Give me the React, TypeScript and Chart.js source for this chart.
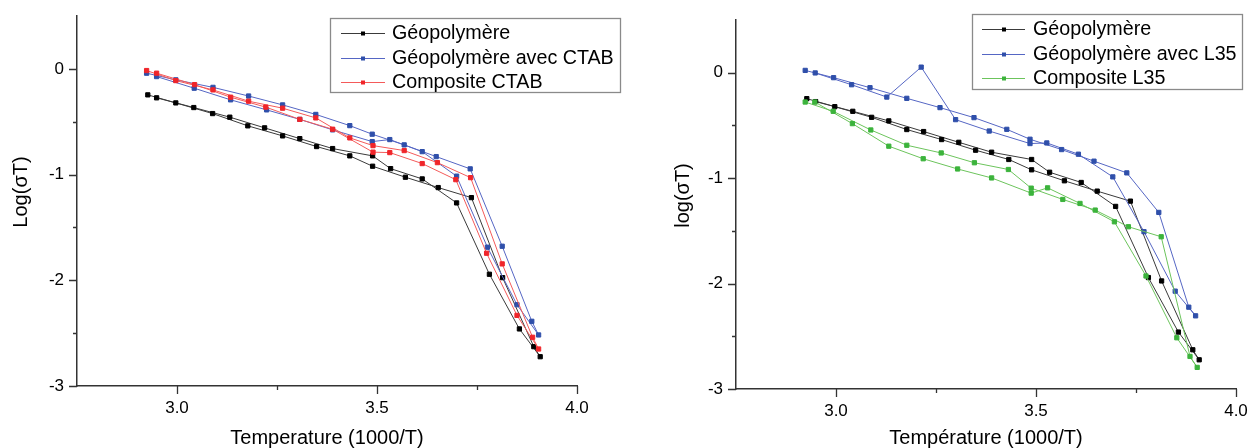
import React, { useEffect, useRef } from 'react';
import { Chart, registerables } from 'chart.js';

Chart.register(...registerables);

// ---- Data (1000/T, log(σT)); each series is a heating/cooling loop in path order ----
const geoX = [2.927, 2.997, 3.089, 3.177, 3.264, 3.349, 3.432, 3.489, 3.571, 3.653, 3.736, 3.814, 3.892, 3.908, 3.856, 3.781, 3.699, 3.613, 3.534, 3.489, 3.389, 3.307, 3.219, 3.132, 3.042, 2.949];
const geoY = [-0.246, -0.322, -0.423, -0.539, -0.634, -0.735, -0.823, -0.921, -1.025, -1.123, -1.218, -1.975, -2.628, -2.723, -2.46, -1.943, -1.268, -1.041, -0.944, -0.823, -0.754, -0.66, -0.558, -0.457, -0.366, -0.274];

const ctabX = [2.924, 2.997, 3.09, 3.179, 3.264, 3.347, 3.432, 3.488, 3.568, 3.648, 3.733, 3.813, 3.887, 3.904, 3.85, 3.776, 3.699, 3.613, 3.532, 3.488, 3.389, 3.307, 3.224, 3.134, 3.043, 2.949];
const ctabY = [-0.041, -0.104, -0.175, -0.257, -0.341, -0.431, -0.537, -0.618, -0.719, -0.83, -0.946, -1.678, -2.388, -2.517, -2.231, -1.687, -1.015, -0.783, -0.669, -0.688, -0.577, -0.478, -0.388, -0.293, -0.183, -0.073];

const compCtabX = [2.924, 2.997, 3.09, 3.179, 3.264, 3.347, 3.432, 3.49, 3.568, 3.651, 3.734, 3.813, 3.889, 3.904, 3.85, 3.774, 3.697, 3.613, 3.532, 3.49, 3.389, 3.307, 3.222, 3.134, 3.044, 2.949];
const compCtabY = [-0.016, -0.111, -0.199, -0.306, -0.372, -0.464, -0.653, -0.726, -0.773, -0.887, -1.029, -1.845, -2.539, -2.65, -2.332, -1.744, -1.048, -0.896, -0.792, -0.788, -0.571, -0.478, -0.362, -0.268, -0.149, -0.041];

const l35X = [2.923, 2.994, 3.085, 3.177, 3.26, 3.345, 3.427, 3.485, 3.564, 3.645, 3.727, 3.807, 3.882, 3.899, 3.848, 3.77, 3.692, 3.606, 3.527, 3.485, 3.383, 3.299, 3.213, 3.127, 3.039, 2.948];
const l35Y = [0.022, -0.047, -0.142, -0.243, -0.331, -0.426, -0.537, -0.631, -0.729, -0.839, -0.95, -1.325, -2.224, -2.306, -2.072, -1.508, -0.988, -0.773, -0.666, -0.672, -0.553, -0.445, 0.053, -0.231, -0.114, -0.002];

const compL35X = [2.923, 2.993, 3.087, 3.177, 3.263, 3.346, 3.431, 3.488, 3.567, 3.648, 3.731, 3.813, 3.885, 3.903, 3.852, 3.775, 3.696, 3.61, 3.529, 3.488, 3.389, 3.304, 3.218, 3.132, 3.041, 2.947];
const compL35Y = [-0.278, -0.366, -0.543, -0.688, -0.761, -0.854, -0.918, -1.095, -1.202, -1.303, -1.461, -1.556, -2.691, -2.795, -2.514, -1.928, -1.414, -1.24, -1.092, -1.142, -0.998, -0.913, -0.816, -0.697, -0.483, -0.278];

const leftLabels = ['Géopolymère', 'Géopolymère avec CTAB', 'Composite CTAB'];
const rightLabels = ['Géopolymère', 'Géopolymère avec L35', 'Composite L35'];
const leftYTitle = 'Log(σT)';
const rightYTitle = 'log(σT)';
const leftXTitle = 'Temperature (1000/T)';
const rightXTitle = 'Température (1000/T)';

const xMin = 2.75, xMax = 4.0, xStep = 0.25;
const yMin = -3, yMax = 0.5, yStep = 0.5;

const FONT = "'Liberation Sans', Arial, Helvetica, sans-serif";

const COLORS = {
  black: { marker: '#000000', line: '#3a3a3a' },
  blue: { marker: '#2f4faa', line: '#5566c4' },
  red: { marker: '#f0252a', line: '#f45a5a' },
  green: { marker: '#3cb33c', line: '#6cc45c' },
};

const toPoints = (xs: number[], ys: number[]) => xs.map((x, i) => ({ x, y: ys[i] }));
const isMajorX = (v: number) => Math.abs(v * 2 - Math.round(v * 2)) < 1e-6;
const isMajorY = (v: number) => Math.abs(v - Math.round(v)) < 1e-6;

const tickMarkPlugin = {
  id: 'tickMarks',
  afterDraw(chart: any) {
    const { ctx } = chart;
    const xs = chart.scales.x;
    const ys = chart.scales.y;
    ctx.save();
    ctx.strokeStyle = '#333333';
    ctx.lineWidth = 1.3;
    ctx.beginPath();
    for (const t of xs.ticks) {
      const major = isMajorX(t.value);
      const edge = Math.abs(t.value - xs.min) < 1e-6 || Math.abs(t.value - xs.max) < 1e-6;
      if (!major && edge) continue;
      const len = major ? 8 : 4;
      const px = Math.round(xs.getPixelForValue(t.value)) + 0.5;
      ctx.moveTo(px, xs.top);
      ctx.lineTo(px, xs.top + len);
    }
    for (const t of ys.ticks) {
      const major = isMajorY(t.value);
      const edge = Math.abs(t.value - ys.min) < 1e-6 || Math.abs(t.value - ys.max) < 1e-6;
      if (!major && edge) continue;
      const len = major ? 8 : 4;
      const py = Math.round(ys.getPixelForValue(t.value)) + 0.5;
      ctx.moveTo(ys.right - len, py);
      ctx.lineTo(ys.right, py);
    }
    ctx.stroke();
    ctx.restore();
  },
};

// vertical axis title, centred slightly above the axis middle as in the original
const yTitlePlugin = {
  id: 'yTitle',
  afterDraw(chart: any, _args: any, opts: any) {
    const { ctx } = chart;
    const ys = chart.scales.y;
    ctx.save();
    ctx.translate(opts.x, (ys.top + ys.bottom) / 2 + opts.dy);
    ctx.rotate(-Math.PI / 2);
    ctx.fillStyle = '#000000';
    ctx.font = `20px ${FONT}`;
    ctx.textAlign = 'center';
    ctx.textBaseline = 'middle';
    ctx.fillText(opts.text, 0, 0);
    ctx.restore();
  },
};

const boxLegendPlugin = {
  id: 'boxLegend',
  afterDraw(chart: any, _args: any, opts: any) {
    const { ctx } = chart;
    const { x, y, w, h, rows, lineX0, lineX1, textX } = opts;
    ctx.save();
    ctx.fillStyle = '#ffffff';
    ctx.fillRect(x, y, w, h);
    ctx.strokeStyle = '#8a8a8a';
    ctx.lineWidth = 1.3;
    ctx.strokeRect(x + 0.5, y + 0.5, w, h);
    chart.data.datasets.forEach((ds: any, i: number) => {
      const cy = rows[i];
      ctx.strokeStyle = ds.borderColor;
      ctx.lineWidth = 1;
      ctx.beginPath();
      ctx.moveTo(lineX0, cy + 0.5);
      ctx.lineTo(lineX1, cy + 0.5);
      ctx.stroke();
      ctx.fillStyle = ds.pointBackgroundColor;
      ctx.fillRect(Math.round((lineX0 + lineX1) / 2) - 2, cy - 1.5, 4, 4);
      ctx.fillStyle = '#000000';
      ctx.font = `19.7px ${FONT}`;
      ctx.textBaseline = 'middle';
      ctx.textAlign = 'left';
      ctx.fillText(ds.label, textX, cy + 1);
    });
    ctx.restore();
  },
};

function makeDataset(label: string, xs: number[], ys: number[], c: { marker: string; line: string }, order: number) {
  return {
    label,
    data: toPoints(xs, ys),
    borderColor: c.line,
    backgroundColor: c.marker,
    pointBackgroundColor: c.marker,
    pointBorderColor: c.marker,
    pointStyle: 'rect',
    pointRadius: 3,
    pointBorderWidth: 1,
    borderWidth: 1,
    showLine: true,
    tension: 0,
    order,
  };
}

function makeConfig(p: any) {
  return {
    type: 'scatter',
    data: { datasets: p.datasets },
    plugins: [tickMarkPlugin, yTitlePlugin, boxLegendPlugin],
    options: {
      responsive: false,
      animation: false,
      devicePixelRatio: 1,
      layout: { padding: { left: 0, top: p.padTop, right: p.padRight, bottom: 0 } },
      plugins: {
        legend: { display: false },
        tooltip: { enabled: false },
        boxLegend: p.legend,
        yTitle: { text: p.yTitle, x: p.yTitleX, dy: -9 },
      },
      scales: {
        x: {
          type: 'linear',
          min: xMin,
          max: xMax,
          afterFit: (s: any) => {
            s.height = p.xHeight;
            s.paddingLeft = 0;
            s.paddingRight = 0;
            s.paddingTop = 0;
            s.paddingBottom = 0;
          },
          grid: { display: false, drawTicks: false, tickLength: 0 },
          border: { display: true, color: '#333333', width: 1.5 },
          ticks: {
            stepSize: xStep,
            autoSkip: false,
            maxRotation: 0,
            padding: 12,
            color: '#000000',
            font: { family: FONT, size: 17 },
            callback: (v: number) => (isMajorX(v) ? v.toFixed(1) : ''),
          },
          title: {
            display: true,
            text: p.xTitle,
            color: '#000000',
            font: { family: FONT, size: 20 },
            padding: { top: 0, bottom: p.xTitlePad },
          },
        },
        y: {
          type: 'linear',
          min: yMin,
          max: yMax,
          afterFit: (s: any) => {
            s.width = p.yWidth;
            s.paddingTop = 0;
            s.paddingBottom = 0;
            s.paddingLeft = 0;
            s.paddingRight = 0;
          },
          grid: { display: false, drawTicks: false, tickLength: 0 },
          border: { display: true, color: '#333333', width: 1.5 },
          ticks: {
            stepSize: yStep,
            autoSkip: false,
            padding: p.yTickPad,
            color: '#000000',
            font: { family: FONT, size: 17 },
            callback: (v: number) => (isMajorY(v) ? String(Math.round(v)) : ''),
          },
          title: { display: false },
        },
      },
    },
  };
}

const leftConfig = () =>
  makeConfig({
    datasets: [
      makeDataset(leftLabels[0], geoX, geoY, COLORS.black, 2),
      makeDataset(leftLabels[1], ctabX, ctabY, COLORS.blue, 1),
      makeDataset(leftLabels[2], compCtabX, compCtabY, COLORS.red, 0),
    ],
    xTitle: leftXTitle,
    yTitle: leftYTitle,
    yTitleX: 21,
    padTop: 16,
    padRight: 47,
    xHeight: 62,
    yWidth: 77,
    yTickPad: 13,
    xTitlePad: -2,
    legend: { x: 330, y: 18, w: 290, h: 74, rows: [33, 58, 82], lineX0: 341, lineX1: 385, textX: 392 },
  });

const rightConfig = () =>
  makeConfig({
    datasets: [
      makeDataset(rightLabels[0], geoX, geoY, COLORS.black, 2),
      makeDataset(rightLabels[1], l35X, l35Y, COLORS.blue, 1),
      makeDataset(rightLabels[2], compL35X, compL35Y, COLORS.green, 0),
    ],
    xTitle: rightXTitle,
    yTitle: rightYTitle,
    yTitleX: 59,
    padTop: 20,
    padRight: 12,
    xHeight: 59,
    yWidth: 112,
    yTickPad: 13,
    xTitlePad: -2,
    legend: { x: 348, y: 14, w: 270, h: 75, rows: [29, 54, 78], lineX0: 358, lineX1: 401, textX: 409 },
  });

function Panel({ build, left }: { build: () => any; left: number }) {
  const ref = useRef<HTMLCanvasElement>(null);
  useEffect(() => {
    const chart = new Chart(ref.current as HTMLCanvasElement, build());
    return () => chart.destroy();
  }, []);
  return (
    <canvas
      ref={ref}
      width={624}
      height={448}
      style={{ position: 'absolute', left, top: 0, width: 624, height: 448, display: 'block' }}
    />
  );
}

export default function App() {
  return (
    <div style={{ position: 'absolute', left: 0, top: 0, width: 1248, height: 448, background: '#ffffff' }}>
      <Panel build={leftConfig} left={0} />
      <Panel build={rightConfig} left={624} />
    </div>
  );
}
